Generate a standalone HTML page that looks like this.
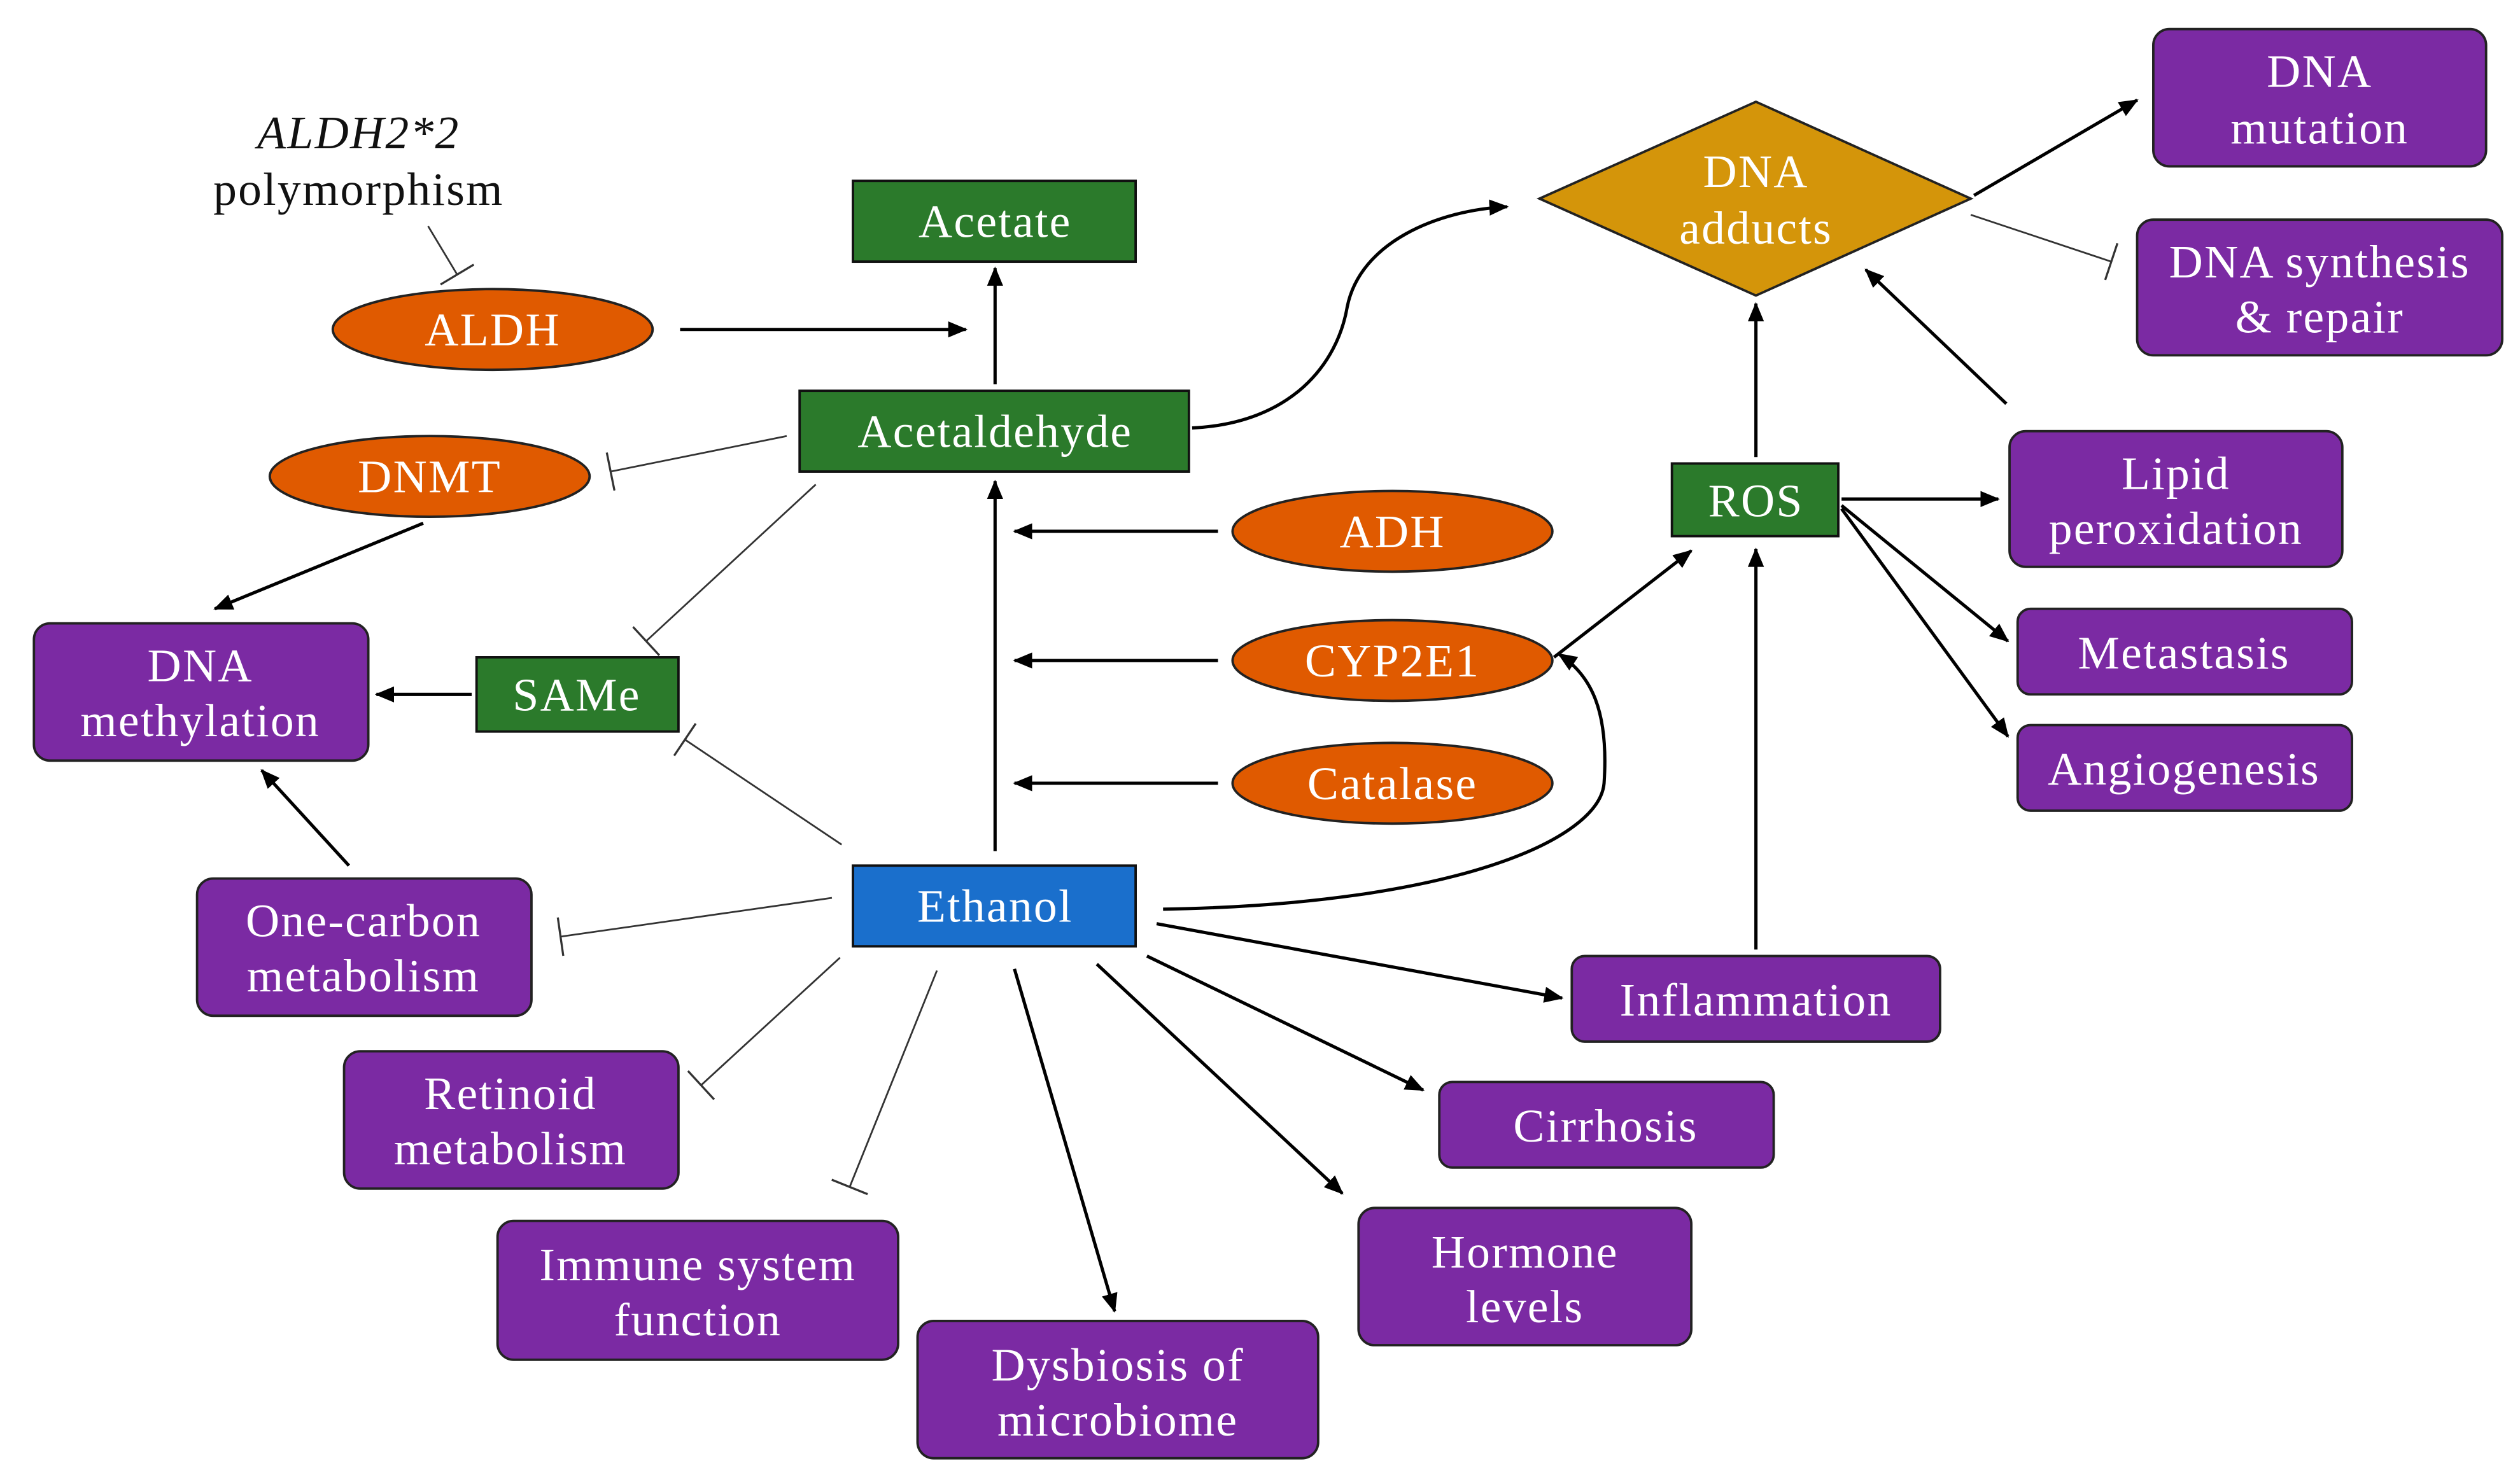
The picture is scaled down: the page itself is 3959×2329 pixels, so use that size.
<!DOCTYPE html>
<html><head><meta charset="utf-8"><style>
html,body{margin:0;padding:0;background:#fff;}
svg{display:block;}
text{font-family:"Liberation Serif",serif;font-size:29px;letter-spacing:0.9px;fill:#fff;text-anchor:middle;dominant-baseline:central;}
.k{fill:#111;}
.g{fill:#2b7a2b;stroke:#111;stroke-width:1.5;}
.p{fill:#7b2aa3;stroke:#222;stroke-width:1.5;}
.o{fill:#e05a00;stroke:#222;stroke-width:1.5;}
.a{stroke:#000;stroke-width:2;fill:none;marker-end:url(#ah);}
.i{stroke:#333;stroke-width:1.1;fill:none;marker-end:url(#ib);}
</style></head><body>
<svg width="3959" height="2329" viewBox="0 0 1560 917.7" xmlns="http://www.w3.org/2000/svg">
<defs>
<marker id="ah" markerUnits="userSpaceOnUse" markerWidth="12" markerHeight="10" refX="11" refY="5" orient="auto"><path d="M0,0 L12,5 L0,10 z" fill="#000"/></marker>
<marker id="ib" markerUnits="userSpaceOnUse" markerWidth="4" markerHeight="24" refX="1" refY="12" orient="auto"><path d="M1,0 L1,24" stroke="#333" stroke-width="1.3"/></marker>
</defs>

<path class="i" d="M265,140 L283,170"/>
<path class="a" d="M421,204 L598,204"/>
<path class="a" d="M616,238 L616,166"/>
<path class="i" d="M487,270 L378,292"/>
<path class="a" d="M262,324 L133,377"/>
<path class="a" d="M292,430 L233,430"/>
<path class="i" d="M505,300 L400,397"/>
<path class="i" d="M521,523 L424,458"/>
<path class="a" d="M754,329 L628,329"/>
<path class="a" d="M754,409 L628,409"/>
<path class="a" d="M754,485 L628,485"/>
<path class="a" d="M616,527 L616,298"/>
<path class="a" d="M738,265 C800,262 828,225 834,190 C842,150 890,130 933,128"/>
<path class="a" d="M1222,121 L1323,62"/>
<path class="i" d="M1220,133 L1307,162"/>
<path class="a" d="M1087,283 L1087,188"/>
<path class="a" d="M1242,250 L1155,167"/>
<path class="a" d="M1140,309 L1237,309"/>
<path class="a" d="M1140,313 L1243,397"/>
<path class="a" d="M1140,315 L1243,456"/>
<path class="a" d="M962,407 L1047,341"/>
<path class="a" d="M720,563 C900,560 990,520 993,485 C996,440 985,418 965,405"/>
<path class="a" d="M1087,588 L1087,340"/>
<path class="a" d="M716,572 L967,618"/>
<path class="a" d="M710,592 L881,675"/>
<path class="a" d="M679,597 L831,739"/>
<path class="a" d="M628,600 L690,812"/>
<path class="i" d="M580,601 L526,735"/>
<path class="i" d="M520,593 L434,672"/>
<path class="i" d="M515,556 L347,580"/>
<path class="a" d="M216,536 L162,477"/>

<text class="k" x="222" y="82" font-style="italic">ALDH2*2</text>
<text class="k" x="222" y="117">polymorphism</text>

<rect class="g" x="528" y="112" width="175" height="50"/><text x="616" y="137">Acetate</text>
<rect class="g" x="495" y="242" width="241" height="50"/><text x="616" y="267">Acetaldehyde</text>
<rect class="g" x="295" y="407" width="125" height="46"/><text x="357" y="430">SAMe</text>
<rect class="g" x="1035" y="287" width="103" height="45"/><text x="1087" y="310">ROS</text>
<rect x="528" y="536" width="175" height="50" fill="#1a6fcc" stroke="#111" stroke-width="1.5"/><text x="616" y="561">Ethanol</text>

<ellipse class="o" cx="305" cy="204" rx="99" ry="25"/><text x="305" y="204">ALDH</text>
<ellipse class="o" cx="266" cy="295" rx="99" ry="25"/><text x="266" y="295">DNMT</text>
<ellipse class="o" cx="862" cy="329" rx="99" ry="25"/><text x="862" y="329">ADH</text>
<ellipse class="o" cx="862" cy="409" rx="99" ry="25"/><text x="862" y="409">CYP2E1</text>
<ellipse class="o" cx="862" cy="485" rx="99" ry="25"/><text x="862" y="485">Catalase</text>

<polygon points="953,123 1087,63 1220,123 1087,183" fill="#d4950a" stroke="#222" stroke-width="1.5"/>
<text x="1087" y="106">DNA</text><text x="1087" y="141">adducts</text>

<rect class="p" x="1333" y="18" width="206" height="85" rx="10"/><text x="1436" y="44">DNA</text><text x="1436" y="79">mutation</text>
<rect class="p" x="1323" y="136" width="226" height="84" rx="10"/><text x="1436" y="162">DNA synthesis</text><text x="1436" y="196">&amp; repair</text>
<rect class="p" x="1244" y="267" width="206" height="84" rx="10"/><text x="1347" y="293">Lipid</text><text x="1347" y="327">peroxidation</text>
<rect class="p" x="1249" y="377" width="207" height="53" rx="8"/><text x="1352" y="404">Metastasis</text>
<rect class="p" x="1249" y="449" width="207" height="53" rx="8"/><text x="1352" y="476">Angiogenesis</text>
<rect class="p" x="973" y="592" width="228" height="53" rx="8"/><text x="1087" y="619">Inflammation</text>
<rect class="p" x="891" y="670" width="207" height="53" rx="8"/><text x="994" y="697">Cirrhosis</text>
<rect class="p" x="841" y="748" width="206" height="85" rx="10"/><text x="944" y="775">Hormone</text><text x="944" y="809">levels</text>
<rect class="p" x="568" y="818" width="248" height="85" rx="10"/><text x="692" y="845">Dysbiosis of</text><text x="692" y="879">microbiome</text>
<rect class="p" x="308" y="756" width="248" height="86" rx="10"/><text x="432" y="783">Immune system</text><text x="432" y="817">function</text>
<rect class="p" x="213" y="651" width="207" height="85" rx="10"/><text x="316" y="677">Retinoid</text><text x="316" y="711">metabolism</text>
<rect class="p" x="122" y="544" width="207" height="85" rx="10"/><text x="225" y="570">One-carbon</text><text x="225" y="604">metabolism</text>
<rect class="p" x="21" y="386" width="207" height="85" rx="10"/><text x="124" y="412">DNA</text><text x="124" y="446">methylation</text>
</svg>
</body></html>
